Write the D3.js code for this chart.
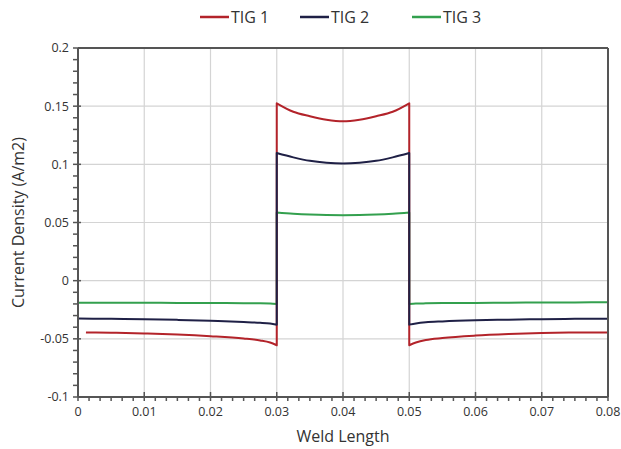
<!DOCTYPE html>
<html>
<head>
<meta charset="utf-8">
<script src="https://cdn.jsdelivr.net/npm/d3@7/dist/d3.min.js"></script>
<style>
  html, body { margin: 0; padding: 0; background: #fff; }
  svg { display: block; }
  text { font-family: "Open Sans", "Liberation Sans", sans-serif; fill: #333; }
</style>
</head>
<body>
<svg id="chart" width="621" height="449"></svg>
<script>
// ---- data ----
const seriesNames = ["TIG 1", "TIG 2", "TIG 3"];
const seriesColors = ["#b3232a", "#1f2046", "#33a04e"];

const xTIG1 = [0.0012, 0.005, 0.01, 0.015, 0.02, 0.025, 0.0275, 0.029, 0.03,
               0.03, 0.0325, 0.035, 0.0375, 0.04, 0.0425, 0.045, 0.0475, 0.05,
               0.05, 0.051, 0.0525, 0.055, 0.06, 0.065, 0.07, 0.075, 0.08];
const xTIG23 = [0, 0.005, 0.01, 0.015, 0.02, 0.025, 0.0275, 0.029, 0.03,
                0.03, 0.0325, 0.035, 0.0375, 0.04, 0.0425, 0.045, 0.0475, 0.05,
                0.05, 0.051, 0.0525, 0.055, 0.06, 0.065, 0.07, 0.075, 0.08];

const yTIG1 = [-0.0445, -0.0448, -0.0454, -0.0463, -0.0477, -0.0497, -0.0514, -0.0532, -0.0555,
               0.1525, 0.1452, 0.1414, 0.1384, 0.1370, 0.1384, 0.1414, 0.1452, 0.1525,
               -0.0555, -0.0532, -0.0510, -0.0493, -0.0472, -0.0459, -0.0450, -0.0446, -0.0445];
const yTIG2 = [-0.0326, -0.0328, -0.0331, -0.0337, -0.0345, -0.0355, -0.0362, -0.0369, -0.0378,
               0.1097, 0.1060, 0.1030, 0.1014, 0.1008, 0.1014, 0.1030, 0.1060, 0.1097,
               -0.0378, -0.0368, -0.0358, -0.0350, -0.0340, -0.0335, -0.0331, -0.0328, -0.0327];
const yTIG3 = [-0.0189, -0.0189, -0.0190, -0.0191, -0.0192, -0.0194, -0.0195, -0.0197, -0.0200,
               0.0585, 0.0575, 0.0568, 0.0564, 0.0563, 0.0564, 0.0568, 0.0575, 0.0585,
               -0.0200, -0.0197, -0.0195, -0.0193, -0.0191, -0.0189, -0.0188, -0.0187, -0.0186];

const xTickValues = [0, 0.01, 0.02, 0.03, 0.04, 0.05, 0.06, 0.07, 0.08];
const xTickLabels = ["0", "0.01", "0.02", "0.03", "0.04", "0.05", "0.06", "0.07", "0.08"];
const yTickValues = [-0.1, -0.05, 0, 0.05, 0.1, 0.15, 0.2];
const yTickLabels = ["-0.1", "-0.05", "0", "0.05", "0.1", "0.15", "0.2"];

const xTitle = "Weld Length";
const yTitle = "Current Density (A/m2)";

// ---- layout ----
const W = 621, H = 449;
const margin = { top: 48, right: 13, bottom: 52, left: 78 };
const svg = d3.select("#chart");

const x = d3.scaleLinear().domain([0, 0.08]).range([margin.left, W - margin.right]);
const y = d3.scaleLinear().domain([-0.1, 0.2]).range([H - margin.bottom, margin.top]);

const axisColor = "#555";

// gridlines
svg.append("g").selectAll("line.gx")
  .data(xTickValues.slice(1, -1)).enter().append("line")
  .attr("x1", d => x(d)).attr("x2", d => x(d))
  .attr("y1", y(-0.1)).attr("y2", y(0.2))
  .attr("stroke", "#d4d4d4").attr("stroke-width", 1.2);
svg.append("g").selectAll("line.gy")
  .data(yTickValues.slice(1, -1)).enter().append("line")
  .attr("x1", x(0)).attr("x2", x(0.08))
  .attr("y1", d => y(d)).attr("y2", d => y(d))
  .attr("stroke", "#d4d4d4").attr("stroke-width", 1.2);

// minor ticks
const xMinor = d3.range(0, 48 + 1).map(i => i * 0.08 / 48).filter((d, i) => i % 6 !== 0);
const yMinor = d3.range(-10, 21).map(i => i / 100).filter(d => Math.abs(Math.round(d * 100) % 5) !== 0);

// series
function pathFor(xs, ys) {
  const pts = xs.map((d, i) => [d, ys[i]]);
  const segs = [];
  let cur = [pts[0]];
  for (let i = 1; i < pts.length; i++) {
    if (pts[i][0] === pts[i - 1][0]) { segs.push(cur); cur = [pts[i]]; }
    else cur.push(pts[i]);
  }
  segs.push(cur);
  const line = d3.line().x(d => x(d[0])).y(d => y(d[1])).curve(d3.curveMonotoneX);
  return segs.map((s, i) => {
    const p = line(s);
    return i === 0 ? p : "L" + p.slice(1);
  }).join("");
}

const seriesData = [
  { xs: xTIG1, ys: yTIG1, color: seriesColors[0] },
  { xs: xTIG23, ys: yTIG2, color: seriesColors[1] },
  { xs: xTIG23, ys: yTIG3, color: seriesColors[2] }
];
const drawOrder = [2, 0, 1];
svg.append("g").selectAll("path")
  .data(drawOrder.map(i => seriesData[i])).enter().append("path")
  .attr("d", d => pathFor(d.xs, d.ys))
  .attr("fill", "none")
  .attr("stroke", d => d.color)
  .attr("stroke-width", 2)
  .attr("stroke-linejoin", "round");

// frame (top & right)
svg.append("line").attr("x1", x(0)).attr("x2", x(0.08)).attr("y1", y(0.2)).attr("y2", y(0.2))
  .attr("stroke", axisColor).attr("stroke-width", 2);
svg.append("line").attr("x1", x(0.08)).attr("x2", x(0.08)).attr("y1", y(0.2)).attr("y2", y(-0.1))
  .attr("stroke", axisColor).attr("stroke-width", 2);

// x axis
const gx = svg.append("g").attr("transform", `translate(0,${y(-0.1)})`);
gx.append("line").attr("x1", x(0)).attr("x2", x(0.08)).attr("stroke", axisColor).attr("stroke-width", 2);
gx.selectAll("line.minor").data(xMinor).enter().append("line")
  .attr("x1", d => x(d)).attr("x2", d => x(d)).attr("y1", 0).attr("y2", 4)
  .attr("stroke", axisColor).attr("stroke-width", 1.5);
gx.selectAll("line.major").data(xTickValues).enter().append("line")
  .attr("x1", d => x(d)).attr("x2", d => x(d)).attr("y1", -5).attr("y2", 4)
  .attr("stroke", axisColor).attr("stroke-width", 1.5);
gx.selectAll("text").data(xTickValues).enter().append("text")
  .attr("x", d => x(d)).attr("y", 19)
  .attr("text-anchor", "middle").attr("font-size", 12.5)
  .text((d, i) => xTickLabels[i]);

// y axis
const gy = svg.append("g").attr("transform", `translate(${x(0)},0)`);
gy.append("line").attr("y1", y(-0.1)).attr("y2", y(0.2)).attr("stroke", axisColor).attr("stroke-width", 2);
gy.selectAll("line.minor").data(yMinor).enter().append("line")
  .attr("y1", d => y(d)).attr("y2", d => y(d)).attr("x1", -5).attr("x2", 0)
  .attr("stroke", axisColor).attr("stroke-width", 1.5);
gy.selectAll("line.major").data(yTickValues).enter().append("line")
  .attr("y1", d => y(d)).attr("y2", d => y(d)).attr("x1", -5).attr("x2", 3)
  .attr("stroke", axisColor).attr("stroke-width", 1.5);
gy.selectAll("text").data(yTickValues).enter().append("text")
  .attr("x", -9).attr("y", d => y(d)).attr("dy", "0.35em")
  .attr("text-anchor", "end").attr("font-size", 12.5)
  .text((d, i) => yTickLabels[i]);

// axis titles
svg.append("text").attr("x", x(0.04)).attr("y", 442)
  .attr("text-anchor", "middle").attr("font-size", 16).text(xTitle);
svg.append("text").attr("transform", `translate(24,${y(0.05)}) rotate(-90)`)
  .attr("text-anchor", "middle").attr("font-size", 16).text(yTitle);

// legend
const legendX = [200, 300, 412];
const lg = svg.append("g");
seriesNames.forEach((name, i) => {
  lg.append("line").attr("x1", legendX[i]).attr("x2", legendX[i] + 29)
    .attr("y1", 17).attr("y2", 17).attr("stroke", seriesColors[i]).attr("stroke-width", 2.5);
  lg.append("text").attr("x", legendX[i] + 31).attr("y", 17).attr("dy", "0.35em")
    .attr("font-size", 16).text(name);
});
</script>
</body>
</html>
